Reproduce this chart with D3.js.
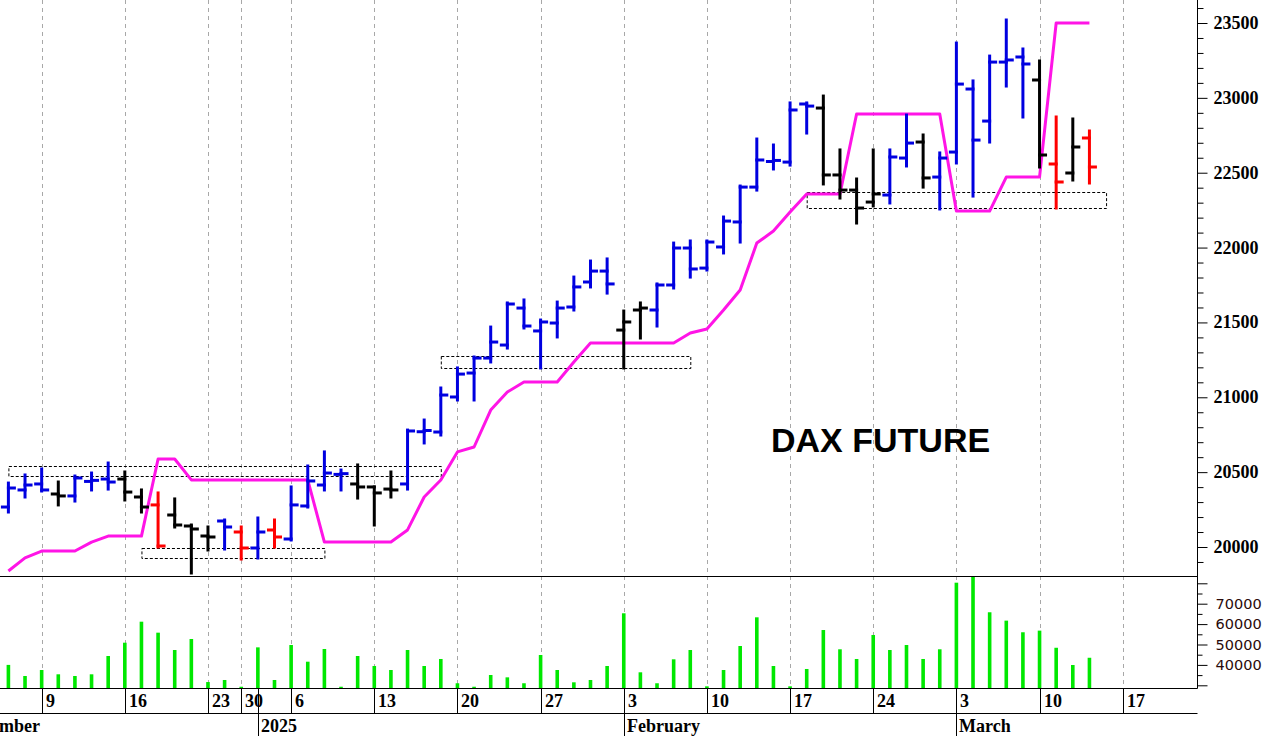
<!DOCTYPE html>
<html><head><meta charset="utf-8">
<script src="https://cdn.jsdelivr.net/npm/d3@7"></script>
<style>body{margin:0;background:#fff;overflow:hidden}svg{display:block}</style>
</head><body><svg id="c" width="1269" height="736"></svg>
<script>
// ---- DATA ----
const axisDays = ["2024-12-02","2024-12-03","2024-12-04","2024-12-05","2024-12-06","2024-12-09","2024-12-10","2024-12-11","2024-12-12","2024-12-13","2024-12-16","2024-12-17","2024-12-18","2024-12-19","2024-12-20","2024-12-23","2024-12-27","2024-12-30","2025-01-02","2025-01-03","2025-01-06","2025-01-07","2025-01-08","2025-01-09","2025-01-10","2025-01-13","2025-01-14","2025-01-15","2025-01-16","2025-01-17","2025-01-20","2025-01-21","2025-01-22","2025-01-23","2025-01-24","2025-01-27","2025-01-28","2025-01-29","2025-01-30","2025-01-31","2025-02-03","2025-02-04","2025-02-05","2025-02-06","2025-02-07","2025-02-10","2025-02-11","2025-02-12","2025-02-13","2025-02-14","2025-02-17","2025-02-18","2025-02-19","2025-02-20","2025-02-21","2025-02-24","2025-02-25","2025-02-26","2025-02-27","2025-02-28","2025-03-03","2025-03-04","2025-03-05","2025-03-06","2025-03-07","2025-03-10","2025-03-11","2025-03-12","2025-03-13","2025-03-14","2025-03-17"];
const barDays = axisDays.slice(3, 69); // 2024-12-05 .. 2025-03-13

const open  = [20267,20381,20421,20354,20341,20438,20454,20454,20334,20281,20214,20140,20073,20174,20100,19993,20114,20053,20274,20414,20485,20421,20401,20387,20421,20770,20768,21002,21162,21262,21349,21596,21443,21496,21603,21770,21843,21449,21583,21583,21750,21997,21863,22004,22171,22404,22575,22571,22959,22932,22485,22384,22304,22351,22598,22705,22471,22638,23059,22845,23239,23273,23119,22558,22498,22732];
const high  = [20427,20481,20521,20434,20474,20494,20561,20501,20381,20361,20321,20147,20134,20180,20134,20194,20180,20401,20541,20635,20514,20548,20401,20501,20781,20848,21062,21196,21269,21469,21630,21650,21516,21636,21803,21910,21924,21576,21630,21757,22030,22044,22044,22204,22411,22725,22685,22966,22966,23012,22652,22458,22652,22652,22885,22752,22632,23366,23113,23279,23520,23326,23246,22872,22859,22778];
const low   = [20234,20334,20374,20281,20307,20381,20387,20314,20234,20000,20134,19826,19980,19987,19920,19927,20000,20047,20267,20381,20381,20327,20147,20334,20387,20695,20748,20982,20982,21236,21329,21463,21196,21403,21583,21737,21696,21196,21396,21476,21730,21803,21850,21964,22037,22384,22525,22551,22765,22425,22331,22164,22278,22298,22545,22404,22258,22565,22344,22705,23079,22872,22538,22264,22451,22431];
const close = [20394,20414,20381,20341,20461,20445,20434,20367,20267,20007,20147,20120,20067,20134,19993,20100,20067,20281,20441,20494,20490,20401,20361,20381,20775,20778,21015,21155,21262,21369,21623,21476,21503,21596,21737,21843,21757,21503,21596,21750,21997,21857,22037,22177,22404,22585,22582,22919,22945,22485,22384,22264,22358,22605,22698,22465,22598,23092,22718,23239,23253,23226,22618,22438,22672,22538];
// trend state of each bar: u = up (blue), n = neutral (black), d = down (red)
const trend = ["u","u","u","n","u","u","u","n","n","d","n","n","n","u","d","u","d","u","u","u","u","n","n","n","u","u","u","u","u","u","u","u","u","u","u","u","u","n","n","u","u","u","u","u","u","u","u","u","u","n","n","n","n","u","u","n","u","u","u","u","u","u","n","d","n","d"];
const stopLine = [19840,19927,19973,19973,19973,20033,20073,20073,20073,20588,20588,20448,20448,20448,20448,20448,20448,20448,20448,20033,20033,20033,20033,20033,20114,20334,20448,20635,20668,20915,21035,21102,21102,21102,21236,21363,21363,21363,21363,21363,21363,21429,21456,21583,21717,22030,22111,22237,22358,22358,22358,22892,22892,22892,22892,22892,22892,22244,22244,22244,22471,22471,22471,23500,23500,23500];
const volume = [40000,34560,37500,35390,34560,35390,44360,50880,61180,55800,47300,52700,31600,32600,29300,48600,32600,49750,41570,47800,29300,44360,39460,37500,47300,39460,42900,31000,29300,35050,33900,31000,44850,37500,31470,32600,39460,65300,36370,31000,42740,47300,29500,37500,49260,63330,39460,29500,38000,57100,47650,42900,54660,47300,49750,42900,47650,80300,83200,65800,61700,56000,56800,48400,39950,43500];

const zoneStart  = ["2024-12-05","2024-12-17","2025-01-17","2025-02-18"];
const zoneEnd    = ["2025-01-17","2025-01-08","2025-02-07","2025-03-14"];
const zoneTop    = [20541,19993,21276,22368];
const zoneBottom = [20474,19927,21196,22264];

const tickDates  = ["2024-12-09","2024-12-16","2024-12-23","2024-12-30","2025-01-06","2025-01-13","2025-01-20","2025-01-27","2025-02-03","2025-02-10","2025-02-17","2025-02-24","2025-03-03","2025-03-10","2025-03-17"];
const tickLabels = ["9","16","23","30","6","13","20","27","3","10","17","24","3","10","17"];
const monthDates  = ["2024-12-02","2025-01-02","2025-02-03","2025-03-03"];
const monthLabels = ["December","2025","February","March"];
const priceTicks = [20000,20500,21000,21500,22000,22500,23000,23500];
const volumeTicks = [40000,50000,60000,70000];
const title = "DAX FUTURE";

// ---- DRAW ----
const svg = d3.select("#c");
const W = 1269, H = 736;
const axisX = 1197.5, priceBottom = 576.5, volBottom = 688.5, dateBottom = 713.5;

const x = d3.scalePoint().domain(axisDays).range([-41.5, 1122.7]);
const y = d3.scaleLinear().domain([20000, 23500]).range([547, 23]);
const yv = d3.scaleLinear().domain([30000, 80000]).range([685.3, 583.3]);
const colors = {u: "#0000e0", n: "#000000", d: "#ff0000"};

svg.append("rect").attr("width", W).attr("height", H).attr("fill", "#fff");

const defs = svg.append("defs");
defs.append("clipPath").attr("id","pclip").append("rect").attr("x",0).attr("y",0).attr("width",axisX).attr("height",priceBottom);
defs.append("clipPath").attr("id","vclip").append("rect").attr("x",0).attr("y",priceBottom).attr("width",axisX).attr("height",volBottom-priceBottom);

// gridlines
svg.append("g").selectAll("line").data(tickDates).join("line")
  .attr("x1", d => Math.round(x(d)) + 0.5).attr("x2", d => Math.round(x(d)) + 0.5)
  .attr("y1", 0).attr("y2", volBottom)
  .attr("stroke", "#a8a8a8").attr("stroke-width", 1).attr("stroke-dasharray", "4,4");

// price panel
const pg = svg.append("g").attr("clip-path", "url(#pclip)");

// zones
pg.append("g").selectAll("rect").data(zoneStart).join("rect")
  .attr("x", (d,i) => x(d) + 0.5)
  .attr("y", (d,i) => Math.round(y(zoneTop[i])) + 0.5)
  .attr("width", (d,i) => x(zoneEnd[i]) - x(d))
  .attr("height", (d,i) => Math.round(y(zoneBottom[i])) - Math.round(y(zoneTop[i])))
  .attr("fill", "none").attr("stroke", "#000").attr("stroke-width", 1).attr("stroke-dasharray", "3,2");

// stop line
pg.append("path").datum(stopLine)
  .attr("fill", "none").attr("stroke", "#ff14e6").attr("stroke-width", 3).attr("stroke-linejoin", "round")
  .attr("d", d3.line().x((d,i) => x(barDays[i])).y(d => y(d)));

// OHLC bars
const bars = pg.append("g").selectAll("g").data(barDays).join("g")
  .attr("stroke", (d,i) => colors[trend[i]]).attr("stroke-width", 3).attr("stroke-linecap", "square");
bars.append("line").attr("x1", d => x(d)).attr("x2", d => x(d))
  .attr("y1", (d,i) => y(high[i])).attr("y2", (d,i) => y(low[i]));
bars.append("line").attr("x1", d => x(d) - 6).attr("x2", d => x(d))
  .attr("y1", (d,i) => y(open[i])).attr("y2", (d,i) => y(open[i]));
bars.append("line").attr("x1", d => x(d)).attr("x2", d => x(d) + 6)
  .attr("y1", (d,i) => y(close[i])).attr("y2", (d,i) => y(close[i]));

// title
svg.append("text").attr("x", 771).attr("y", 452).text(title)
  .attr("font-family", "'Liberation Sans', Arial, sans-serif").attr("font-weight", "bold")
  .attr("font-size", 34).attr("fill", "#000");

// volume bars
svg.append("g").attr("clip-path", "url(#vclip)").selectAll("rect").data(barDays).join("rect")
  .attr("x", d => x(d) - 1.8).attr("width", 3.6)
  .attr("y", (d,i) => Math.min(yv(volume[i]), volBottom - 1.5))
  .attr("height", (d,i) => volBottom - Math.min(yv(volume[i]), volBottom - 1.5))
  .attr("fill", "#00e800");

// frame lines
const frame = svg.append("g").attr("stroke", "#000").attr("stroke-width", 1);
frame.append("line").attr("x1", 0).attr("x2", axisX).attr("y1", priceBottom).attr("y2", priceBottom);
frame.append("line").attr("x1", 0).attr("x2", axisX).attr("y1", volBottom).attr("y2", volBottom);
frame.append("line").attr("x1", 0).attr("x2", axisX).attr("y1", dateBottom).attr("y2", dateBottom);
frame.append("line").attr("x1", axisX).attr("x2", axisX).attr("y1", 0).attr("y2", volBottom);

// price axis
const pAxis = svg.append("g").attr("transform", `translate(${axisX},0)`);
pAxis.call(d3.axisRight(y).tickValues(d3.range(19900, 23700, 100)).tickSize(6).tickFormat(""))
  .call(g => g.select(".domain").remove());
pAxis.selectAll(".tick line").attr("stroke", "#000")
  .attr("x2", d => d % 500 === 0 ? 10 : 6);
pAxis.selectAll(".tick").filter(d => y(d) > priceBottom || y(d) < 0).remove();
pAxis.append("g").selectAll("text").data(priceTicks).join("text")
  .attr("x", 16).attr("y", d => y(d) + 6).text(d => d)
  .attr("font-family", "'Liberation Serif', 'Times New Roman', serif").attr("font-weight", "bold")
  .attr("font-size", 18).attr("fill", "#000");

// volume axis
const vAxis = svg.append("g").attr("transform", `translate(${axisX},0)`);
vAxis.call(d3.axisRight(yv).tickValues(d3.range(30000, 85000, 5000)).tickSize(5).tickFormat(""))
  .call(g => g.select(".domain").remove());
vAxis.selectAll(".tick line").attr("stroke", "#000").attr("x2", d => d % 10000 === 0 ? 10 : 5);
vAxis.selectAll(".tick").filter(d => yv(d) < priceBottom + 3).remove();
vAxis.append("g").selectAll("text").data(volumeTicks).join("text")
  .attr("x", 18).attr("y", d => yv(d) + 5).text(d => d)
  .attr("font-family", "'DejaVu Sans', Verdana, sans-serif")
  .attr("font-size", 14.5).attr("fill", "#2a0a0a");

// date axis
const serif = "'Liberation Serif', 'Times New Roman', serif";
const dAxis = svg.append("g");
dAxis.selectAll("line.wk").data(tickDates).join("line").attr("class","wk")
  .attr("x1", d => Math.round(x(d)) + 0.5).attr("x2", d => Math.round(x(d)) + 0.5)
  .attr("y1", volBottom).attr("y2", dateBottom).attr("stroke", "#000");
dAxis.selectAll("text.wk").data(tickDates).join("text").attr("class","wk")
  .attr("x", d => Math.round(x(d)) + 4).attr("y", 707).text((d,i) => tickLabels[i])
  .attr("font-family", serif).attr("font-weight", "bold").attr("font-size", 18).attr("fill", "#000");
dAxis.selectAll("line.mo").data(monthDates).join("line").attr("class","mo")
  .attr("x1", d => Math.round(x(d)) + 0.5).attr("x2", d => Math.round(x(d)) + 0.5)
  .attr("y1", volBottom).attr("y2", H).attr("stroke", "#000");
dAxis.selectAll("text.mo").data(monthDates).join("text").attr("class","mo")
  .attr("x", d => Math.round(x(d)) + 3).attr("y", 732).text((d,i) => monthLabels[i])
  .attr("font-family", serif).attr("font-weight", "bold").attr("font-size", 18).attr("fill", "#000");
</script></body></html>
